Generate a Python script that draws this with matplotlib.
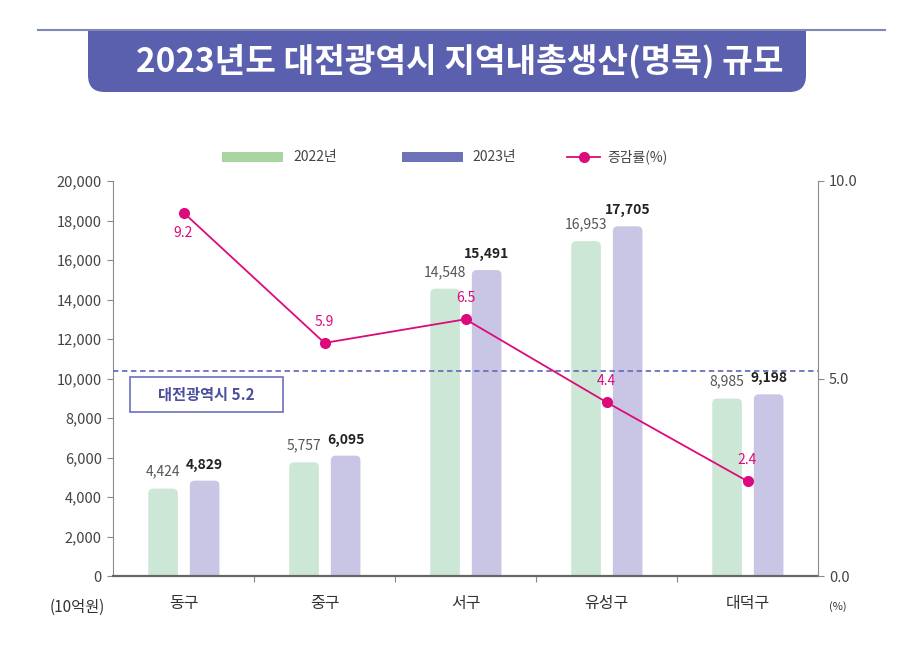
import matplotlib
matplotlib.use('Agg')
import matplotlib.pyplot as plt
from matplotlib.patches import FancyBboxPatch, Rectangle
from matplotlib.lines import Line2D
import numpy as np

plt.rcParams['font.family'] = ['Noto Sans CJK KR', 'DejaVu Sans']

# data
districts = ['동구', '중구', '서구', '유성구', '대덕구']
grdp_2022 = [4424, 5757, 14548, 16953, 8985]
grdp_2023 = [4829, 6095, 15491, 17705, 9198]
growth_rate = [9.2, 5.9, 6.5, 4.4, 2.4]
daejeon_rate = 5.2
left_ticks = [0, 2000, 4000, 6000, 8000, 10000, 12000, 14000, 16000, 18000, 20000]
right_ticks = [0.0, 5.0, 10.0]

c22 = '#cce7d5'
c23 = '#c8c6e4'
c22_leg = '#a9d5a0'
c23_leg = '#6c71b8'
c_line = '#dc0a7c'
c_navy = '#5a5fae'

W, H = 920, 666
fig = plt.figure(figsize=(W / 100, H / 100), dpi=100)

# axes box in pixels: x 113..818, y 181..576
ax = fig.add_axes([113 / W, 1 - 576 / H, 705 / W, 395 / H])
ax2 = ax.twinx()

ax.set_xlim(-0.5, 4.5)
ax.set_ylim(0, 20000)
ax2.set_ylim(0, 10)

# rounded bars
x = np.arange(len(districts))
bw = 0.21
asp = (705 / 5) / (395 / 20000)
rs = 0.035
bars22 = ax.bar(x - 0.145, grdp_2022, bw, color='none')
bars23 = ax.bar(x + 0.15, grdp_2023, bw, color='none')
for bars, col in [(bars22, c22), (bars23, c23)]:
    for r in bars:
        p = FancyBboxPatch((r.get_x(), -rs * asp), r.get_width(), r.get_height() + rs * asp,
                           boxstyle=f'round,pad=0,rounding_size={rs}',
                           mutation_aspect=asp, fc=col, ec='none')
        ax.add_patch(p)

for r, v in zip(bars22, grdp_2022):
    ax.text(r.get_x() + r.get_width() / 2, v + 500, f'{v:,}', ha='center', va='bottom',
            fontsize=10, color='#555555')
for r, v in zip(bars23, grdp_2023):
    ax.text(r.get_x() + r.get_width() / 2, v + 450, f'{v:,}', ha='center', va='bottom',
            fontsize=10, color='#222222', fontweight='bold')

# growth line
ax2.axhline(daejeon_rate, color='#6a70c0', ls=(0, (3, 2)), lw=1.3, zorder=1)
ax2.plot(x, growth_rate, color=c_line, marker='o', ms=7, lw=1.3, zorder=3)
for i, v in enumerate(growth_rate):
    if i == 0:
        ax2.text(x[i], v - 0.35, f'{v}', ha='center', va='top', fontsize=10, color=c_line)
    else:
        ax2.text(x[i], v + 0.35, f'{v}', ha='center', va='bottom', fontsize=10, color=c_line)

# Daejeon box
ax.add_patch(Rectangle((17 / 705, (576 - 412) / 395), 153 / 705, 35 / 395,
                       transform=ax.transAxes, fc='white', ec='#6a70c0', lw=1.2, zorder=4))
ax.text((17 + 76.5) / 705, (576 - 394.5) / 395, f'대전광역시 {daejeon_rate}',
        transform=ax.transAxes, ha='center', va='center', fontsize=11,
        fontweight='bold', color='#4a4f9e', zorder=5)

# axes styling
for a in (ax, ax2):
    a.spines['top'].set_visible(False)
ax.spines['left'].set_color('#8a8a8a')
ax2.spines['right'].set_color('#8a8a8a')
ax2.spines['left'].set_visible(False)
ax2.spines['bottom'].set_visible(False)
ax.spines['right'].set_visible(False)
ax.spines['bottom'].set_color('#666666')
ax.spines['bottom'].set_linewidth(1.6)

ax.set_yticks(left_ticks)
ax.set_yticklabels([f'{t:,}' for t in left_ticks])
ax.tick_params(axis='y', length=4, color='#8a8a8a', labelsize=10.5, labelcolor='#444444', pad=4)
ax2.set_yticks(right_ticks)
ax2.set_yticklabels([f'{t:.1f}' for t in right_ticks])
ax2.tick_params(axis='y', length=4, color='#8a8a8a', labelsize=10.5, labelcolor='#444444', pad=4)

ax.set_xticks([0.5, 1.5, 2.5, 3.5])
ax.set_xticklabels([])
ax.tick_params(axis='x', which='major', length=4, color='#888888')
ax.set_xticks(x, minor=True)
ax.set_xticklabels(districts, minor=True)
ax.tick_params(axis='x', which='minor', length=0, pad=14, labelsize=11.5, labelcolor='#333333')

fig.text(77 / W, 1 - 607 / H, '(10억원)', ha='center', va='center', fontsize=11, color='#333333')
fig.text(838 / W, 1 - 607 / H, '(%)', ha='center', va='center', fontsize=8, color='#333333')

# legend (manual)
ly = 1 - 157 / H
fig.patches.append(Rectangle((222 / W, ly - 5 / H), 61 / W, 10 / H, transform=fig.transFigure,
                             fc=c22_leg, ec='none'))
fig.text(293 / W, ly, '2022년', ha='left', va='center', fontsize=10, color='#444444')
fig.patches.append(Rectangle((402 / W, ly - 5 / H), 61 / W, 10 / H, transform=fig.transFigure,
                             fc=c23_leg, ec='none'))
fig.text(472 / W, ly, '2023년', ha='left', va='center', fontsize=10, color='#444444')
fig.lines.append(Line2D([567 / W, 600 / W], [ly, ly], transform=fig.transFigure,
                        color=c_line, lw=1.3))
fig.lines.append(Line2D([583.5 / W], [ly], transform=fig.transFigure,
                        color=c_line, marker='o', ms=7, ls='none'))
fig.text(607 / W, ly, '증감률(%)', ha='left', va='center', fontsize=10, color='#444444')

# title banner
fig.patches.append(FancyBboxPatch((88 / W, 1 - 92 / H), 718 / W, 80 / H,
                                  boxstyle='round,pad=0,rounding_size=0.018',
                                  mutation_aspect=W / H, transform=fig.transFigure,
                                  fc=c_navy, ec='none'))
fig.patches.append(Rectangle((0, 1 - 30 / H), 1, 30 / H, transform=fig.transFigure,
                             fc='white', ec='none'))
fig.lines.append(Line2D([38 / W, 885 / W], [1 - 30 / H, 1 - 30 / H], transform=fig.transFigure,
                        color='#8088b8', lw=1.5))
fig.text(460 / W, 1 - 61 / H, '2023년도 대전광역시 지역내총생산(명목) 규모', ha='center', va='center',
         fontsize=24, fontweight='bold', color='white')

fig.savefig('out.png', dpi=100)
